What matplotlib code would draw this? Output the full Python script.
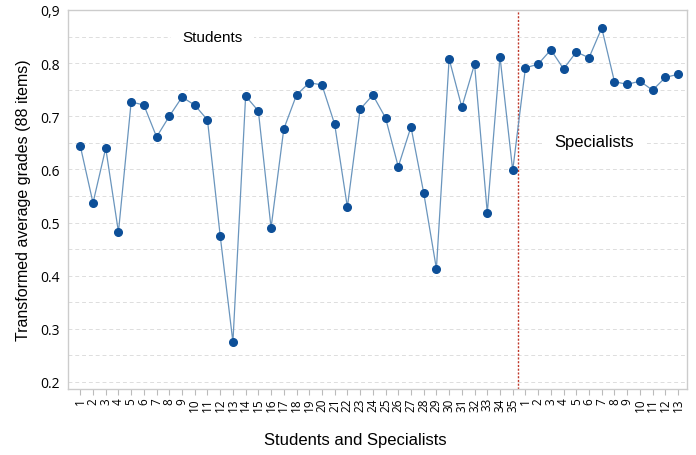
import matplotlib
matplotlib.use("Agg")
import matplotlib.pyplot as plt
from matplotlib.ticker import MultipleLocator

# Transformed average grades (88 items)
students = [0.644, 0.537, 0.640, 0.482, 0.727, 0.721, 0.661, 0.700, 0.736, 0.721,
            0.693, 0.475, 0.275, 0.738, 0.710, 0.490, 0.676, 0.740, 0.763, 0.759,
            0.685, 0.529, 0.713, 0.740, 0.697, 0.605, 0.680, 0.556, 0.413, 0.808,
            0.717, 0.798, 0.518, 0.812, 0.598]
specialists = [0.791, 0.798, 0.825, 0.789, 0.821, 0.810, 0.866, 0.765, 0.760,
               0.766, 0.749, 0.773, 0.779]

student_labels = [str(i) for i in range(1, len(students) + 1)]
specialist_labels = [str(i) for i in range(1, len(specialists) + 1)]
y_ticks = [0.2, 0.3, 0.4, 0.5, 0.6, 0.7, 0.8, 0.9]
y_tick_labels = ["0.2", "0.3", "0.4", "0.5", "0.6", "0.7", "0.8", "0,9"]

values = students + specialists
labels = student_labels + specialist_labels
x = list(range(len(values)))

fig = plt.figure(figsize=(6.96, 4.56), dpi=100)
ax = fig.add_axes([0.098, 0.145, 0.889, 0.831])
ax.set_axisbelow(True)

ax.plot(x, values, color="#6a95bd", linewidth=0.9, zorder=2)
ax.plot(x, values, "o", color="#0d4f98", markersize=5.5, zorder=3)

# group separator
ax.axvline(len(students) - 0.6, color="#c0392b", linestyle=(0, (1.5, 1.2)),
           linewidth=1.0, zorder=1)

ax.set_xlim(-0.95, len(values) - 0.3)
ax.set_ylim(0.187, 0.9)
ax.set_xticks(x)
ax.set_xticklabels(labels, rotation=90, fontsize=8.5, family="Open Sans")
ax.set_yticks(y_ticks)
ax.set_yticklabels(y_tick_labels, fontsize=10, family="Open Sans")
ax.yaxis.set_minor_locator(MultipleLocator(0.05))
ax.grid(True, which="both", axis="y", color="#dddddd", linestyle=(0, (4, 3)),
        linewidth=0.7)
ax.tick_params(axis="x", length=4, color="#bbbbbb", pad=2)
ax.tick_params(axis="y", which="both", length=0, pad=6)

for side in ["top", "right", "left", "bottom"]:
    ax.spines[side].set_color("#cccccc")
    ax.spines[side].set_linewidth(1.0)

ax.text(10.4, 0.85, "Students", fontsize=11, family="Liberation Sans",
        ha="center", va="center",
        bbox=dict(facecolor="white", edgecolor="none", pad=8), zorder=1.5)
ax.text(40.4, 0.652, "Specialists", fontsize=12, family="Liberation Sans",
        ha="center", va="center",
        bbox=dict(facecolor="white", edgecolor="none", pad=8), zorder=1.5)

ax.set_ylabel("Transformed average grades (88 items)", fontsize=11.5,
              family="Liberation Sans", labelpad=7)
fig.text(0.51, 0.035, "Students and Specialists", fontsize=12,
         family="Liberation Sans", ha="center", va="center")

fig.savefig("out.png", dpi=100)
